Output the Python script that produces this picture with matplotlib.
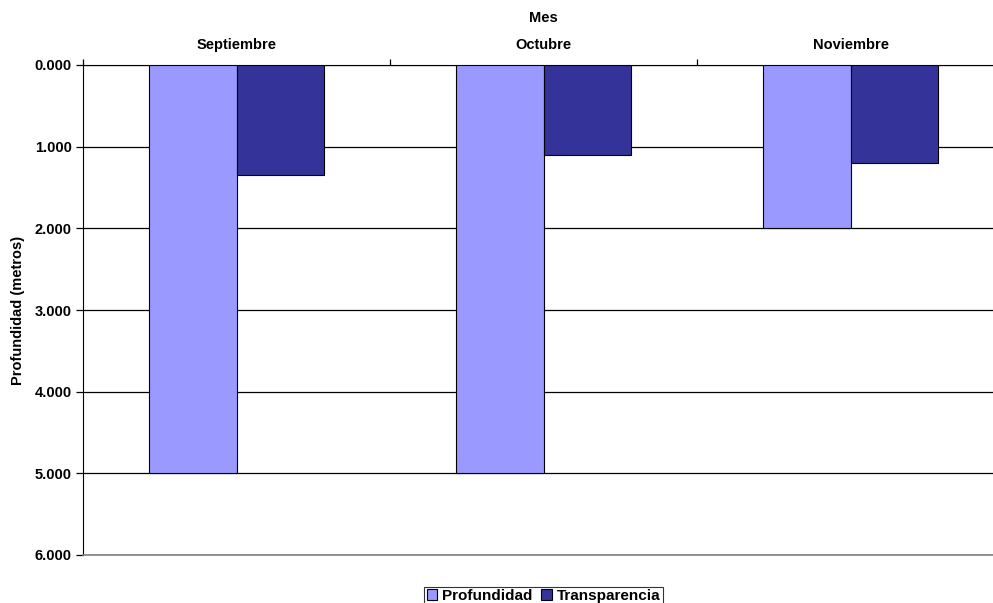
import matplotlib
matplotlib.use("Agg")
import matplotlib.pyplot as plt
from matplotlib.ticker import FuncFormatter, FixedLocator
import numpy as np

plt.rcParams['font.family'] = ['Liberation Sans', 'DejaVu Sans']
plt.rcParams['font.weight'] = 'bold'

meses = ["Septiembre", "Octubre", "Noviembre"]
profundidad = [5.0, 5.0, 2.0]
transparencia = [1.35, 1.1, 1.2]
y_ticks = [0, 1, 2, 3, 4, 5, 6]

fig = plt.figure(figsize=(9.93, 6.03), dpi=100)
W, H = 993, 603
left, right, top, bottom = 83, 1004, 65, 555
ax = fig.add_axes([left / W, 1 - bottom / H, (right - left) / W, (bottom - top) / H])

x = np.arange(len(meses))
w = 1 / 3.5
ax.bar(x - w / 2, profundidad, width=w, color="#9999FF", edgecolor="black", linewidth=0.8,
       label="Profundidad", zorder=3)
ax.bar(x + w / 2, transparencia, width=w, color="#333399", edgecolor="black", linewidth=0.8,
       label="Transparencia", zorder=3)

ax.set_xlim(-0.5, len(meses) - 0.5)
ax.set_ylim(6, 0)

ax.yaxis.set_major_locator(FixedLocator(y_ticks))
ax.yaxis.set_major_formatter(FuncFormatter(lambda v, p: f"{v:.3f}"))
ax.grid(axis="y", color="black", linewidth=0.9, zorder=0)

ax.xaxis.tick_top()
ax.xaxis.set_label_position("top")
ax.set_xticks(x)
ax.set_xticklabels(meses, fontsize=10.5, fontweight="bold")
ax.set_xticks(np.arange(-0.5, len(meses), 0.5), minor=True)
ax.tick_params(axis="x", which="major", length=0, pad=9.5)
ax.tick_params(axis="x", which="minor", length=4, width=0.9, direction="out")
ax.tick_params(axis="y", length=5, width=0.9, labelsize=10.5, pad=3)
for lab in ax.get_yticklabels():
    lab.set_fontweight("bold")

ax.set_xlabel("Mes", fontsize=10.5, fontweight="bold", labelpad=11.5)
ax.set_ylabel("Profundidad (metros)", fontsize=10.5, fontweight="bold", labelpad=7)

ax.spines["right"].set_visible(False)
ax.spines["top"].set_color("black")
ax.spines["left"].set_color("black")
ax.spines["bottom"].set_color("#808080")
ax.spines["bottom"].set_linewidth(1.2)

leg = fig.legend(loc="upper center", bbox_to_anchor=(543.5 / W, 1 - 579 / H), ncol=2,
                 frameon=True, fancybox=False, edgecolor="black",
                 handlelength=0.7, handleheight=0.7, handletextpad=0.3, columnspacing=0.6,
                 borderpad=0.15, prop={"weight": "bold", "size": 11})
leg.get_frame().set_linewidth(0.8)

fig.savefig("out.png", dpi=100)
